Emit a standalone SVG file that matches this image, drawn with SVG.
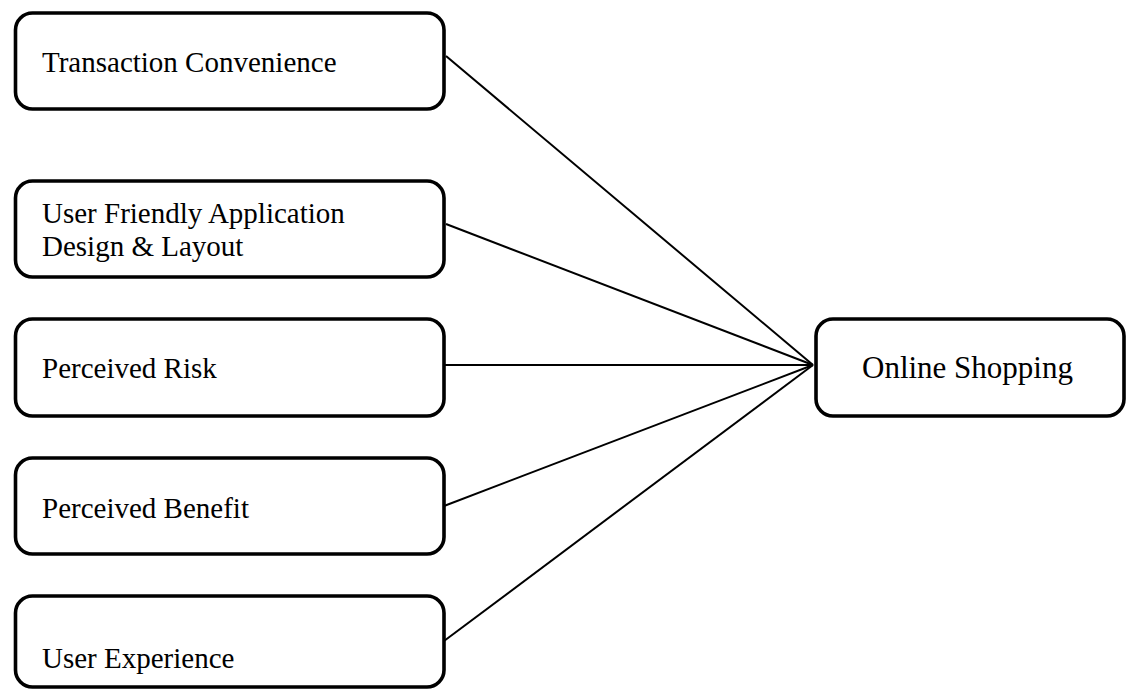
<svg xmlns="http://www.w3.org/2000/svg" width="1126" height="689" viewBox="0 0 1126 689">
<style>
.box{fill:#fff;stroke:#000;stroke-width:3.6}
.lbl{font-family:"Liberation Serif","Times New Roman",serif;font-size:29px;fill:#000}
.big{font-size:31px}
.conn line{stroke:#000;stroke-width:2}
</style>
<rect width="1126" height="689" fill="#fff"/>
<g class="conn">
<line x1="446" y1="56" x2="813" y2="365"/>
<line x1="446" y1="224" x2="813" y2="365"/>
<line x1="444" y1="365" x2="813" y2="365"/>
<line x1="444" y1="506" x2="813" y2="365"/>
<line x1="444" y1="641" x2="813" y2="365"/>
</g>
<g id="n1"><rect class="box" x="15.5" y="13" width="428.5" height="96" rx="17"/><text class="lbl" x="42" y="72">Transaction Convenience</text></g>
<g id="n2"><rect class="box" x="15.5" y="181" width="428.5" height="96" rx="17"/><text class="lbl" x="42" y="223">User Friendly Application</text><text class="lbl" x="42" y="256">Design &amp; Layout</text></g>
<g id="n3"><rect class="box" x="15.5" y="319" width="428.5" height="97" rx="17"/><text class="lbl" x="42" y="378">Perceived Risk</text></g>
<g id="n4"><rect class="box" x="15.5" y="458" width="428.5" height="96" rx="17"/><text class="lbl" x="42" y="518">Perceived Benefit</text></g>
<g id="n5"><rect class="box" x="15.5" y="596" width="428.5" height="91" rx="17"/><text class="lbl" x="42" y="668">User Experience</text></g>
<g id="n6"><rect class="box" x="816" y="319" width="308" height="97" rx="17"/><text class="lbl big" x="862" y="378">Online Shopping</text></g>
</svg>
